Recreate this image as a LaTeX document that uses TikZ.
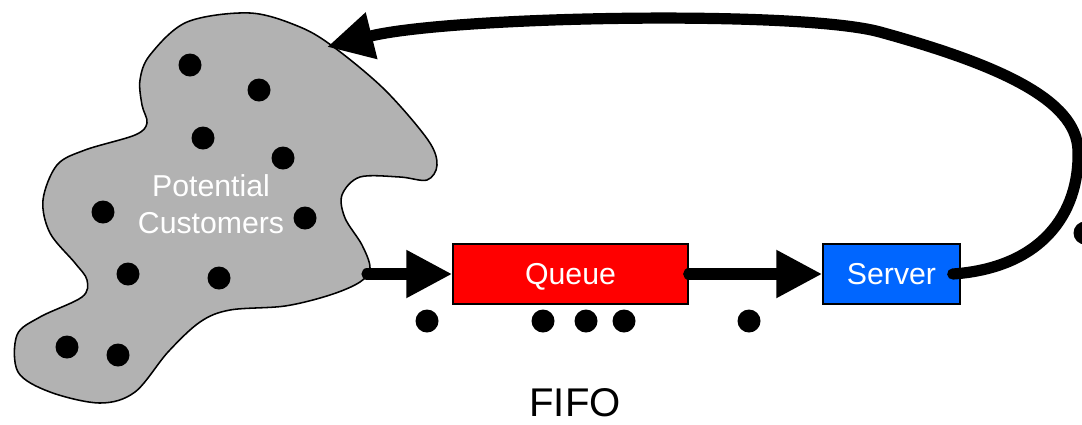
\documentclass[tikz,border=0pt]{standalone}
\usepackage{fontspec}
\setmainfont{Liberation Sans}
\usetikzlibrary{arrows.meta}
\definecolor{blobGray}{RGB}{178,178,178}
\definecolor{queueRed}{RGB}{255,0,0}
\definecolor{serverBlue}{RGB}{0,102,255}
\tikzset{
  procBox/.style={draw=black, line width=1pt, text=white, minimum height=1.5cm, inner sep=0pt, text depth=0pt, font=\fontsize{21.5}{26}\selectfont},
  flowArrow/.style={line width=0.28cm, line cap=round, -{Triangle[length=1.15cm, width=1.125cm]}}
}
\newcommand{\drawCustomer}[2]{
   	\fill[black] (#1,#2) circle (11.5) ;
}

\begin{document}
\begin{tikzpicture}[x=0.025cm, y=-0.025cm]
%%%%%%%%%%%%%%%%%%
\useasboundingbox (0,0) rectangle (1082,424);

%Population blob
	\draw[fill=blobGray, line width=1.1pt] plot[smooth cycle, tension=0.55] coordinates {
		(250,13) (300,27) (335,48) (385,90) (428,140) (437,165) (427,180)
		(400,177) (360,177) (342,195) (345,218) (362,245) (370,268) (360,282)
		(330,295) (285,306) (230,310) (200,322) (168,352) (135,392) (100,403)
		(50,392) (18,372) (17,335) (40,317) (82,297) (87,280) (75,263)
		(50,233) (43,200) (57,165) (85,150) (135,135) (147,123) (142,105)
		(140,80) (150,55) (187,22)};
	\coordinate (custOut) at (367,274);
	\coordinate (custIn) at (327,47);
	\node[align=center, text=white, inner sep=0pt, font=\fontsize{21.5}{26}\selectfont] (custLabel) at (211,204) {Potential\\Customers};

% Customers in the population
	\foreach \cx/\cy in {190/65, 259/90, 203/138, 283/158, 103/212, 305/218, 128/274, 219/278, 67/347, 118/355}
	{
		\drawCustomer{\cx}{\cy}
	}

% Queue and server
	\node[procBox, fill=queueRed, minimum width=5.875cm] (queue) at (570.5,274) {Queue};
	\node[procBox, fill=serverBlue, minimum width=3.425cm] (server) at (891.5,274) {Server};

% Customers waiting
	\foreach \cx in {427, 543, 586, 624, 749}
	{
		\drawCustomer{\cx}{321}
	}
	\drawCustomer{1085}{233}

% Connect with arrows
	\draw[flowArrow] (custOut) -- (queue.west);
	\draw[flowArrow] (queue.east) -- (server.west);
	\draw[flowArrow] ([xshift=-0.2cm]server.east) .. controls (1040,268) and (1080,215) .. (1078,150)
		.. controls (1076,100) and (1000,65) .. (880,32)
		.. controls (800,10) and (450,16) .. (custIn);

\node[font=\fontsize{28.5}{34}\selectfont] (fifo) at (575,403) {FIFO};

\end{tikzpicture}
\end{document}
